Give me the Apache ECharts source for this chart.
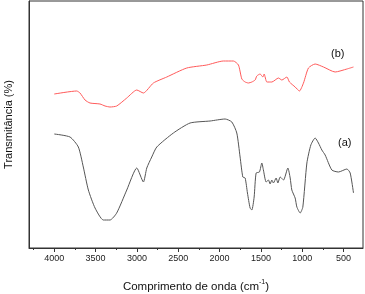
<!DOCTYPE html>
<html>
<head>
<meta charset="utf-8">
<script src="https://cdn.jsdelivr.net/npm/echarts@6/dist/echarts.min.js"></script>
<style>
  html, body { margin: 0; padding: 0; background: #fff; }
  #ftir { width: 365px; height: 294px; }
</style>
</head>
<body>
<div id="ftir"></div>
<script>
// numero de onda (cm-1) e transmitancia (unid. arbitrarias)
var waveA = [4000, 3810, 3709, 3649, 3588, 3507, 3407, 3326, 3245, 3123, 3002, 2922, 2881, 2821, 2760, 2559, 2357, 2115, 1933, 1852, 1792, 1752, 1719, 1691, 1663, 1631, 1610, 1582, 1558, 1518, 1489, 1470, 1437, 1409, 1389, 1368, 1349, 1316, 1295, 1267, 1227, 1174, 1146, 1126, 1086, 1065, 1025, 993, 944, 896, 844, 804, 763, 723, 642, 562, 460, 420, 380];
var transA = [114, 111, 101, 81, 58, 40, 28, 28, 35, 58, 80, 66, 80, 91, 101, 115, 125, 127, 129, 126, 115, 91, 71, 70, 55, 40, 38, 51, 75, 76, 85, 78, 66, 68, 64, 68, 65, 70, 65, 71, 68, 80, 70, 58, 50, 41, 35, 41, 85, 103, 110, 105, 98, 93, 78, 76, 79, 75, 55];

var waveB = [4000, 3729, 3689, 3628, 3568, 3447, 3386, 3326, 3245, 3123, 3002, 2922, 2801, 2639, 2397, 2155, 1954, 1833, 1772, 1731, 1691, 1651, 1610, 1570, 1550, 1510, 1477, 1461, 1428, 1368, 1288, 1247, 1186, 1155, 1086, 1034, 985, 925, 844, 743, 602, 460, 380];
var transB = [154, 157, 155, 148, 145, 144, 142, 141, 142, 150, 158, 155, 165, 171, 180, 183, 187, 187, 183, 169, 166, 165, 166, 168, 172, 174, 171, 174, 166, 166, 170, 168, 171, 166, 161, 157, 165, 180, 184, 181, 176, 179, 181];

var majorTicks = [4000, 3500, 3000, 2500, 2000, 1500, 1000, 500];
var minorTicks = [4250, 3750, 3250, 2750, 2250, 1750, 1250, 750];

function pairs(xs, ys) {
  var out = [];
  for (let i = 0; i < xs.length; i++) {
    out.push([xs[i], ys[i]]);
  }
  return out;
}

var chartFtir = echarts.init(document.getElementById("ftir"));
var font = "Liberation Sans, Arial, sans-serif";

var option = {
  animation: false,
  grid: {
    left: 29,
    right: 2,
    top: 1,
    bottom: 46,
    outerBoundsMode: "none",
    containLabel: false,
    show: true,
    borderColor: "#333",
    borderWidth: 1
  },
  xAxis: [
    {
      type: "value",
      inverse: true,
      min: 265,
      max: 4306,
      name: "{a|Comprimento de onda (cm}{s|-1}{a|)}",
      nameLocation: "middle",
      nameGap: 31,
      nameTextStyle: {
        rich: {
          a: { fontFamily: font, fontSize: 11.5, color: "#111" },
          s: { fontFamily: font, fontSize: 7, color: "#111", verticalAlign: "top", padding: [0, 0, 8, 0] }
        }
      },
      axisLine: { show: true, lineStyle: { color: "#333", width: 1 } },
      axisTick: { show: true, inside: false, length: 4, customValues: majorTicks, lineStyle: { color: "#333" } },
      axisLabel: {
        customValues: majorTicks,
        formatter: function(v) { return String(v); },
        fontFamily: font,
        fontSize: 9,
        color: "#222",
        margin: 6
      },
      splitLine: { show: false }
    },
    {
      type: "value",
      inverse: true,
      position: "bottom",
      min: 265,
      max: 4306,
      axisLine: { show: false },
      axisTick: { show: true, inside: false, length: 2, customValues: minorTicks, lineStyle: { color: "#333" } },
      axisLabel: { show: false },
      splitLine: { show: false }
    }
  ],
  yAxis: {
    type: "value",
    min: 0,
    max: 247,
    name: "Transmitância (%)",
    nameLocation: "middle",
    nameGap: 15,
    nameTextStyle: { fontFamily: font, fontSize: 11, color: "#111" },
    axisLine: { show: true, lineStyle: { color: "#333" } },
    axisTick: { show: false },
    axisLabel: { show: false },
    splitLine: { show: false }
  },
  series: [
    {
      name: "(a)",
      type: "line",
      data: pairs(waveA, transA),
      showSymbol: false,
      smooth: 0.2,
      lineStyle: { color: "#555", width: 1 }
    },
    {
      name: "(b)",
      type: "line",
      data: pairs(waveB, transB),
      showSymbol: false,
      smooth: 0.2,
      lineStyle: { color: "#ff5a5a", width: 1 }
    }
  ],
  graphic: [
    { type: "text", left: 331, top: 48, style: { text: "(b)", fontFamily: font, fontSize: 11, fill: "#111" } },
    { type: "text", left: 338, top: 137, style: { text: "(a)", fontFamily: font, fontSize: 11, fill: "#111" } }
  ]
};

chartFtir.setOption(option);
window.addEventListener("resize", function() {
  chartFtir.resize();
});
</script>
</body>
</html>
